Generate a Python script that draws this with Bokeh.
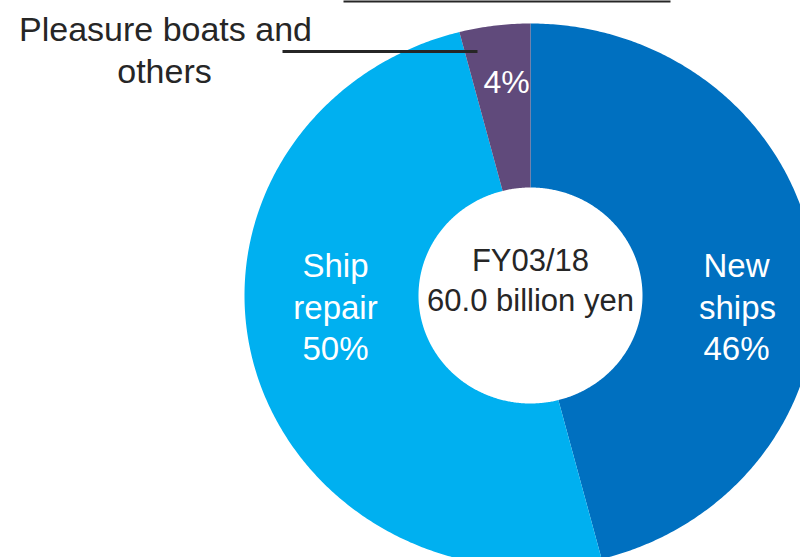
import numpy as np
from bokeh.plotting import figure
from bokeh.models import Range1d
from bokeh.core.properties import value
from bokeh.embed import file_html
from bokeh.resources import INLINE

# ---- data ----
categories = ["New ships", "Ship repair", "Pleasure boats and others"]
shares = [46, 50, 4]  # % of FY03/18 sales
fiscal_year = "FY03/18"
total_sales_billion_yen = 60.0

# ---- styles / layout ----
colors = ["#0070C0", "#00B0F0", "#604A7B"]
FONT = value("Liberation Sans")
DARK = "#262626"
W, H = 800, 557
CX, CY = 530, 295          # donut centre (pixels)
RX_OUT, RY_OUT = 286, 272  # outer radii (slightly stretched horizontally)
RX_IN, RY_IN = 112, 108    # inner radii

p = figure(width=W, height=H, x_range=Range1d(0, W), y_range=Range1d(H, 0),
           toolbar_location=None, output_backend="svg", min_border=0,
           x_axis_type=None, y_axis_type=None)
p.grid.visible = False
p.outline_line_color = None
p.background_fill_color = "white"
p.border_fill_color = "white"

# ---- donut slices (clockwise from 12 o'clock) ----
total = float(sum(shares))
cum = np.concatenate([[0.0], np.cumsum(shares)]) / total * 2 * np.pi
xs, ys = [], []
for a0, a1 in zip(cum[:-1], cum[1:]):
    n = max(int((a1 - a0) / (2 * np.pi) * 720), 8)
    t = np.linspace(a0, a1, n)
    ox = CX + RX_OUT * np.sin(t)
    oy = CY - RY_OUT * np.cos(t)
    ix = CX + RX_IN * np.sin(t[::-1])
    iy = CY - RY_IN * np.cos(t[::-1])
    xs.append(list(np.concatenate([ox, ix])))
    ys.append(list(np.concatenate([oy, iy])))

p.patches(xs=xs, ys=ys, fill_color=colors, line_color=None)

# ---- slice labels ----
pct = [f"{s}%" for s in shares]
big = dict(text_font=FONT, text_align="center", text_baseline="middle")

# New ships
p.text(x=[736, 737, 736], y=[265, 307, 348],
       text=categories[0].split(" ") + [pct[0]],
       text_color="white", text_font_size="33px", **big)
# Ship repair
p.text(x=[335, 335, 335], y=[265, 307, 348],
       text=categories[1].split(" ") + [pct[1]],
       text_color="white", text_font_size="33px", **big)
# Pleasure boats
p.text(x=[506], y=[81], text=[pct[2]],
       text_color="white", text_font_size="32px", **big)

# callout for the small slice
cat3 = categories[2].split(" ")
p.text(x=[165, 164], y=[28, 70],
       text=[" ".join(cat3[:3]), " ".join(cat3[3:])],
       text_color=DARK, text_font_size="34px", **big)
p.segment(x0=[282], y0=[51], x1=[477], y1=[51], line_color=DARK, line_width=3)

# centre text
p.text(x=[530, 530], y=[260, 300],
       text=[fiscal_year, f"{total_sales_billion_yen:.1f} billion yen"],
       text_color=DARK, text_font_size="31px", **big)

# underline of the (cropped) title at the very top
p.segment(x0=[343], y0=[0.5], x1=[670], y1=[0.5], line_color=DARK, line_width=3)

open("out.html", "w").write(file_html(p, INLINE))
